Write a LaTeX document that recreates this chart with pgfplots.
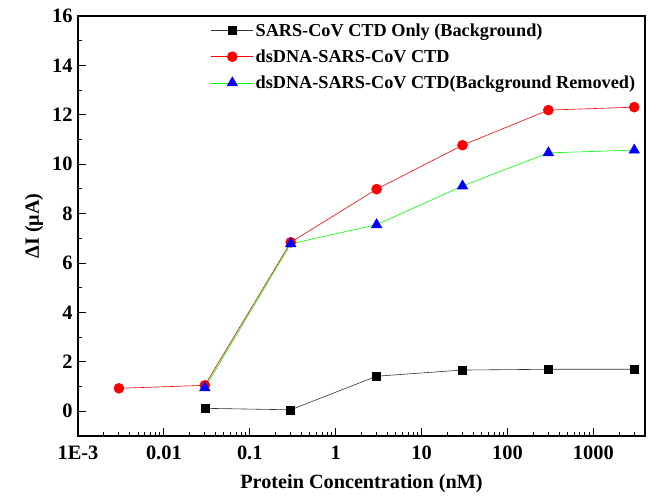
\documentclass[border=0pt]{standalone}
\usepackage{fontspec}
\setmainfont{Liberation Serif}
\usepackage{pgfplots}
\pgfplotsset{compat=1.18}
\begin{document}
\begin{tikzpicture}[x=1bp,y=1bp]
\useasboundingbox (0,0) rectangle (654,503);
\begin{axis}[
  at={(78bp,67bp)}, anchor=south west,
  scale only axis, width=567bp, height=420bp,
  xmode=log, xmin=1e-3, xmax=4000, ymin=-1, ymax=16,
  axis line style={line width=1.6pt},
  tick style={black, line width=1pt},
  major tick length=8bp, minor tick length=4bp,
  tick align=inside, xtick pos=bottom, ytick pos=left,
  xtick={1e-3,0.01,0.1,1,10,100,1000},
  xticklabels={1E-3,0.01,0.1,1,10,100,1000},
  minor xtick={0.002,0.003,0.004,0.005,0.006,0.007,0.008,0.009,
    0.02,0.03,0.04,0.05,0.06,0.07,0.08,0.09,
    0.2,0.3,0.4,0.5,0.6,0.7,0.8,0.9,
    2,3,4,5,6,7,8,9,
    20,30,40,50,60,70,80,90,
    200,300,400,500,600,700,800,900,
    2000,3000},
  ytick={0,2,...,16}, minor ytick={-1,1,...,15},
  /pgf/number format/assume math mode=true,
  tick label style={font=\fontsize{20.5}{20.5}\selectfont\bfseries},
  xticklabel style={yshift=-6bp},
  yticklabel style={xshift=-2bp},
  xlabel={Protein Concentration (nM)}, ylabel={ΔI (μA)},
  label style={font=\fontsize{20.3}{20.3}\selectfont\bfseries},
  xlabel style={yshift=-8bp},
  ylabel style={yshift=2bp},
  legend style={draw=none, fill=none, at={(0.229,0.992)}, anchor=north west,
    font=\fontsize{18.3}{18.3}\selectfont\bfseries, row sep=8bp},
  legend cell align=left,
  legend image code/.code={\draw[mark repeat=2,mark phase=2] plot coordinates {(0bp,0bp) (21bp,0bp) (42bp,0bp)};},
]
\addplot[black!80, line width=0.6pt, mark=square*, mark size=4bp, mark options={black, fill=black}]
  coordinates {(0.03,0.12) (0.3,0.06) (3,1.42) (30,1.67) (300,1.70) (3000,1.70)};
\addlegendentry{SARS-CoV CTD Only (Background)}
\addplot[red, line width=0.6pt, mark=*, mark size=5bp, mark options={red, fill=red}]
  coordinates {(0.003,0.93) (0.03,1.05) (0.3,6.84) (3,8.99) (30,10.77) (300,12.19) (3000,12.31)};
\addlegendentry{dsDNA-SARS-CoV CTD}
\addplot[green, line width=0.6pt, mark=triangle*, mark size=6bp, mark options={blue, fill=blue}]
  coordinates {(0.03,0.95) (0.3,6.78) (3,7.55) (30,9.12) (300,10.46) (3000,10.57)};
\addlegendentry{dsDNA-SARS-CoV CTD(Background Removed)}
\end{axis}
\end{tikzpicture}
\end{document}
